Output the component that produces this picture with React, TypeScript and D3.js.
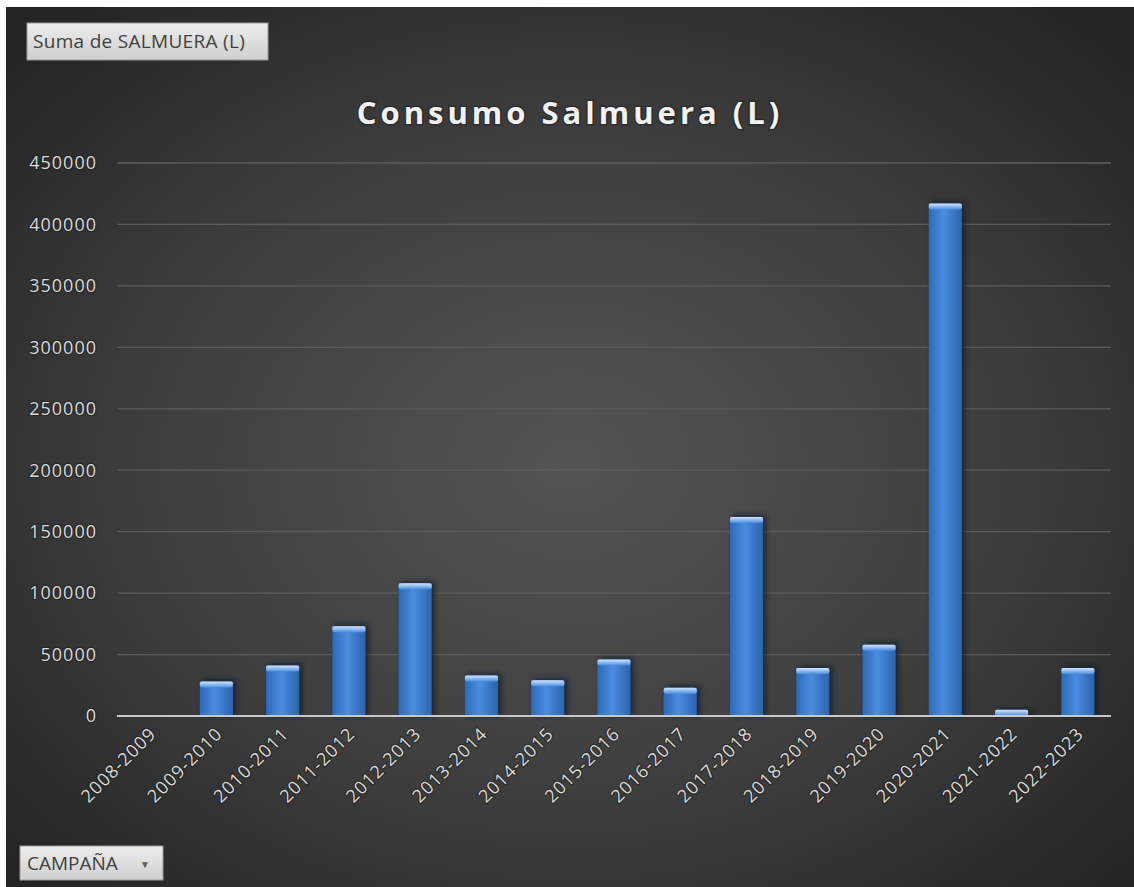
import React from "react";
import * as d3 from "d3";

const campaigns = [
  "2008-2009", "2009-2010", "2010-2011", "2011-2012", "2012-2013",
  "2013-2014", "2014-2015", "2015-2016", "2016-2017", "2017-2018",
  "2018-2019", "2019-2020", "2020-2021", "2021-2022", "2022-2023",
];
const salmuera = [
  0, 28000, 41000, 73000, 108000, 33000, 29000, 46000, 23000, 162000,
  39000, 58000, 417000, 5000, 39000,
];
const yTicks = [0, 50000, 100000, 150000, 200000, 250000, 300000, 350000, 400000, 450000];

const W = 1134;
const H = 887;
const FONT = "'Open Sans', 'Noto Sans', sans-serif";

export default function App() {
  const x = d3.scaleBand<string>()
    .domain(campaigns)
    .range([117, 1111])
    .paddingInner(0.5)
    .paddingOuter(0.25);
  const y = d3.scaleLinear().domain([0, 450000]).range([716, 163]);
  const [x0, x1] = x.range();

  return (
    <svg
      width={W}
      height={H}
      style={{ position: "absolute", left: 0, top: 0, display: "block" }}
    >
      <defs>
        <radialGradient id="bg" cx="50%" cy="52%" r="68%">
          <stop offset="0%" stopColor="#545454" />
          <stop offset="55%" stopColor="#3e3e3e" />
          <stop offset="100%" stopColor="#242424" />
        </radialGradient>
        <linearGradient id="bar" x1="0" x2="1" y1="0" y2="0">
          <stop offset="0%" stopColor="#2d69b8" />
          <stop offset="45%" stopColor="#4a8de0" />
          <stop offset="100%" stopColor="#2b63ad" />
        </linearGradient>
        <linearGradient id="cap" x1="0" x2="0" y1="0" y2="1">
          <stop offset="0%" stopColor="#cfe6ff" />
          <stop offset="100%" stopColor="#4a8de0" />
        </linearGradient>
        <linearGradient id="btn" x1="0" x2="0" y1="0" y2="1">
          <stop offset="0%" stopColor="#ededed" />
          <stop offset="100%" stopColor="#cfcfcf" />
        </linearGradient>
        <filter id="blur" x="-50%" y="-10%" width="200%" height="120%">
          <feGaussianBlur stdDeviation="2.5" />
        </filter>
      </defs>

      <rect width={W} height={H} fill="#ffffff" />
      <rect x={6} y={7} width={W - 6} height={H - 7} fill="url(#bg)" />

      {/* field button */}
      <rect x={27} y={23} width={241} height={37} fill="url(#btn)" stroke="#9a9a9a" />
      <text x={33} y={48} fontFamily={FONT} fontSize={19} letterSpacing={0.3} fill="#404040">
        Suma de SALMUERA (L)
      </text>

      {/* title */}
      <text
        x={570}
        y={124}
        textAnchor="middle"
        fontFamily={FONT}
        fontWeight={700}
        fontSize={31}
        letterSpacing={4}
        fill="#f2f2f2"
        stroke="#1e1e1e"
        strokeWidth={3}
        strokeOpacity={0.5}
        paintOrder="stroke"
      >
        Consumo Salmuera (L)
      </text>

      {/* gridlines */}
      {yTicks.filter((t) => t > 0).map((t) => (
        <line key={t} x1={x0} x2={x1} y1={y(t)} y2={y(t)} stroke="#5c5c5c" strokeWidth={1.3} />
      ))}

      {/* y labels */}
      {yTicks.map((t) => (
        <text
          key={t}
          x={97}
          y={y(t)}
          dy="0.35em"
          textAnchor="end"
          fontFamily={FONT}
          fontSize={18}
          letterSpacing={1}
          fill="#d9d9d9"
          stroke="#1e1e1e"
          strokeWidth={2.5}
          strokeOpacity={0.55}
          paintOrder="stroke"
        >
          {t}
        </text>
      ))}

      {/* bars */}
      {campaigns.map((c, i) => {
        const v = salmuera[i];
        if (v <= 0) return null;
        const bx = x(c)!;
        const bw = x.bandwidth();
        const top = y(v);
        const h = y(0) - top;
        const capH = Math.min(6, h);
        return (
          <g key={c}>
            <rect x={bx + 3} y={top - 2} width={bw} height={h + 2} fill="#0f1c2e" opacity={0.75} filter="url(#blur)" />
            <rect x={bx} y={top} width={bw} height={h} fill="url(#bar)" />
            <rect x={bx} y={top} width={bw} height={capH} fill="url(#cap)" rx={2} />
          </g>
        );
      })}

      {/* baseline */}
      <line x1={x0} x2={x1} y1={y(0)} y2={y(0)} stroke="#c8c8c8" strokeWidth={2} />

      {/* x labels */}
      {campaigns.map((c) => {
        const cx = x(c)! + x.bandwidth() / 2;
        return (
          <text
            key={c}
            transform={`translate(${cx + 7},${735}) rotate(-45)`}
            textAnchor="end"
            fontFamily={FONT}
            fontSize={18}
            letterSpacing={1}
            fill="#d9d9d9"
            stroke="#1e1e1e"
            strokeWidth={2.5}
            strokeOpacity={0.55}
            paintOrder="stroke"
          >
            {c}
          </text>
        );
      })}

      {/* axis field button */}
      <rect x={20} y={846} width={143} height={34} fill="url(#btn)" stroke="#9a9a9a" />
      <text x={27} y={870} fontFamily={FONT} fontSize={19} fill="#404040">
        CAMPAÑA
      </text>
      <text x={145} y={868} textAnchor="middle" fontFamily={FONT} fontSize={10} fill="#606060">
        ▼
      </text>
    </svg>
  );
}
